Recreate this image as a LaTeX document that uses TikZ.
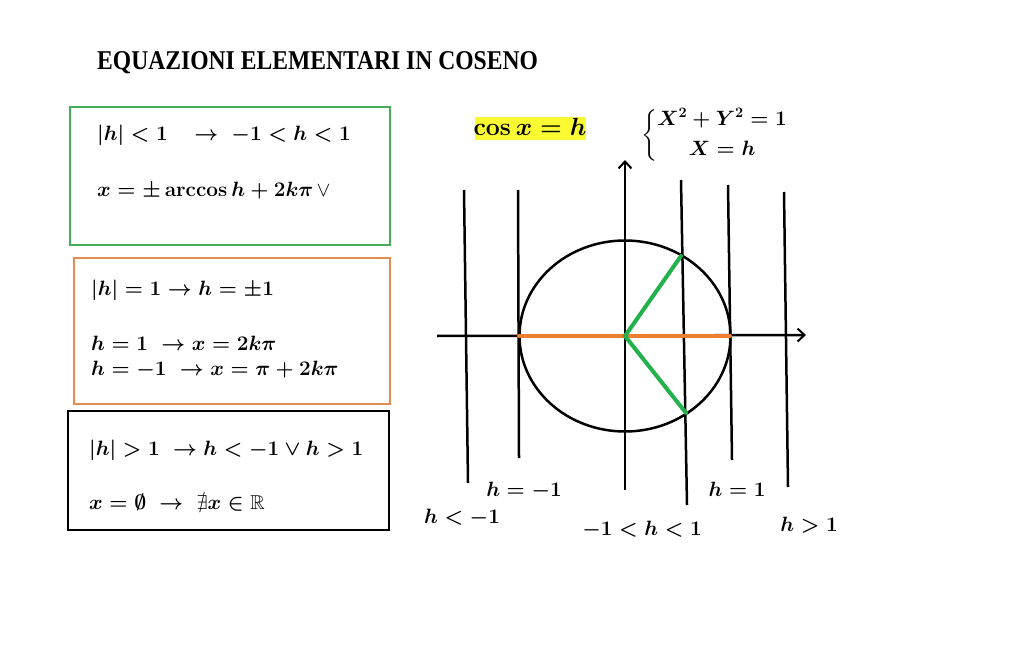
\documentclass[tikz,border=0pt]{standalone}
\usepackage{amsmath}
\usepackage{amssymb}
\usepackage[no-math]{fontspec}
\setmainfont{Liberation Serif}
\usetikzlibrary{arrows.meta}
\definecolor{boxgreen}{RGB}{70,172,92}
\definecolor{boxorange}{RGB}{228,140,82}
\definecolor{lgreen}{RGB}{34,177,76}
\definecolor{lorange}{RGB}{237,125,49}
\definecolor{hyellow}{RGB}{250,250,50}
\tikzset{
  mtxt/.style={font=\fontsize{20}{24}\selectfont\boldmath, inner sep=0pt, anchor=west},
  lbl/.style={font=\fontsize{20}{24}\selectfont\boldmath, inner sep=0pt},
  frame/.style={line width=2.4pt},
  vline/.style={line width=2.5pt, black},
  axis/.style={line width=2.5pt, black, -{Straight Barb[length=7pt,width=13pt,line width=2pt]}},
  seg/.style={line width=4pt, line cap=round}
}
\begin{document}
\begin{tikzpicture}[x=1pt,y=-1pt]
\useasboundingbox (0,0) rectangle (1024,660);
\fill[white] (0,0) rectangle (1024,660);
% title
\node[inner sep=0pt, anchor=west, font=\bfseries\fontsize{23.6}{28}\selectfont] (title) at (97,63) {\scalebox{1}[1.15]{EQUAZIONI ELEMENTARI IN COSENO}};
% boxes
\draw[frame, boxgreen] (70,107) rectangle (390,245);
\draw[frame, boxorange] (74,258) rectangle (390,404);
\draw[frame, black] (68,411) rectangle (389,530);
% box texts
\node[mtxt] (g1) at (97,135) {$|h|<1\quad\rightarrow\;-1<h<1$};
\node[mtxt] (g2) at (97,191) {$x=\pm\arccos h+2k\pi$\,\mbox{\unboldmath$\vee$}};
\node[mtxt] (o1) at (91,290) {$|h|=1\rightarrow h=\pm1$};
\node[mtxt] (o2) at (91,343) {$h=1\;\rightarrow x=2k\pi$};
\node[mtxt] (o3) at (91,370) {$h=-1\;\rightarrow x=\pi+2k\pi$};
\node[mtxt] (b1) at (89,450) {$|h|>1\;\rightarrow h<-1\vee h>1$};
\node[mtxt] (b2) at (89,503) {$x=\emptyset\;\rightarrow\;\nexists x\in\mathbb{R}$};
% cos x = h
\fill[hyellow] (475,117) rectangle (586,140);
\node[lbl, font=\fontsize{24}{28}\selectfont\boldmath] (cosx) at (530,127) {$\cos x=h$};
% system
\node[lbl, anchor=west, font=\fontsize{21.5}{26}\selectfont\boldmath] (sys) at (641,135) {$\left\{\begin{array}{@{}c@{}}X^2+Y^2=1\\[4pt] X=h\end{array}\right.$};
% coordinates
\coordinate (v1a) at (464,190); \coordinate (v1b) at (468,483);
\coordinate (v2a) at (518,190); \coordinate (v2b) at (519,458);
\coordinate (ya) at (625,490);  \coordinate (yb) at (625,160);
\coordinate (v4a) at (681,180); \coordinate (v4b) at (687,505);
\coordinate (v5a) at (728,185); \coordinate (v5b) at (732,460);
\coordinate (v6a) at (784,192); \coordinate (v6b) at (788,487);
\coordinate (xa) at (437,336);  \coordinate (xb) at (806,335);
\coordinate (O) at (625,336);
\coordinate (L) at (519,336);
\coordinate (R) at (730,336);
\coordinate (P) at (681,256);
\coordinate (Q) at (686,413);
% circle
\draw[line width=2.5pt] (O) ellipse [x radius=105.5pt, y radius=95.5pt];
% lines
\draw[vline] (v1a) -- (v1b);
\draw[vline] (v2a) -- (v2b);
\draw[vline] (v4a) -- (v4b);
\draw[vline] (v5a) -- (v5b);
\draw[vline] (v6a) -- (v6b);
\draw[axis] (ya) -- (yb);
\draw[axis] (xa) -- (xb);
\draw[seg, lorange] (L) -- (R);
\draw[seg, lgreen] (P) -- (O) -- (Q);
% labels
\node[lbl] (lm1) at (524,491) {$h=-1$};
\node[lbl] (llt) at (462,518) {$h<-1$};
\node[lbl] (lmid) at (642,530) {$-1<h<1$};
\node[lbl] (lp1) at (737,489) {$h=1$};
\node[lbl] (lgt) at (809,525) {$h>1$};
\end{tikzpicture}
\end{document}
